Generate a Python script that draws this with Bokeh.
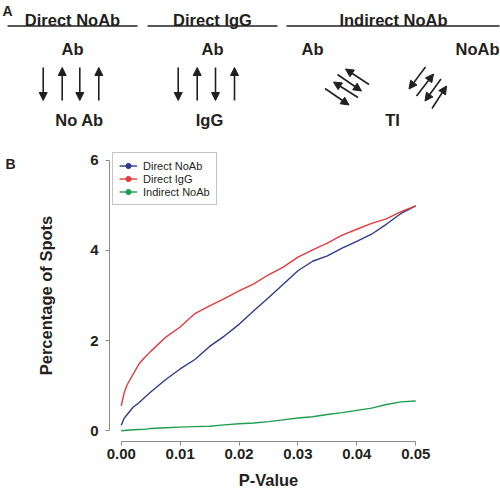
from bokeh.plotting import figure
from bokeh.models import (Range1d, Label, Arrow, NormalHead, Legend, LegendItem,
                          FixedTicker, NumeralTickFormatter)
from bokeh.layouts import row
from bokeh.embed import file_html
from bokeh.resources import INLINE

# ---------------- data ----------------
p_value = [0.0, 0.0005, 0.001, 0.002, 0.003, 0.004, 0.005, 0.0075, 0.01, 0.0125,
           0.015, 0.0175, 0.02, 0.0225, 0.025, 0.0275, 0.03, 0.0325, 0.035, 0.0375,
           0.04, 0.0425, 0.045, 0.0475, 0.05]
direct_noab = [0.12, 0.28, 0.36, 0.52, 0.62, 0.74, 0.86, 1.13, 1.37, 1.58,
               1.87, 2.10, 2.36, 2.66, 2.95, 3.25, 3.55, 3.76, 3.88, 4.05,
               4.20, 4.36, 4.58, 4.82, 4.99]
direct_igg = [0.55, 0.85, 1.02, 1.25, 1.48, 1.63, 1.76, 2.07, 2.30, 2.60,
              2.77, 2.93, 3.10, 3.26, 3.46, 3.63, 3.85, 4.01, 4.16, 4.34,
              4.47, 4.60, 4.70, 4.86, 4.99]
indirect_noab = [0.0, 0.005, 0.01, 0.02, 0.025, 0.03, 0.05, 0.065, 0.08, 0.09,
                 0.10, 0.13, 0.155, 0.17, 0.20, 0.24, 0.28, 0.31, 0.36, 0.40,
                 0.45, 0.50, 0.58, 0.64, 0.66]
series_names = ["Direct NoAb", "Direct IgG", "Indirect NoAb"]
y_ticks = [0, 2, 4, 6]
x_ticks = [0.0, 0.01, 0.02, 0.03, 0.04, 0.05]

panel_headers = ["Direct NoAb", "Direct IgG", "Indirect NoAb"]
top_labels = ["Ab", "Ab", "Ab", "NoAb"]
bottom_labels = ["No Ab", "IgG", "TI"]

# ---------------- styles ----------------
FONT = "Liberation Sans"
INK = "#231f20"
AXIS_GREY = "#8a8a8a"
COLORS = ["#2e3a8c", "#e23b3f", "#1f9e4f"]
W = 500
H1 = 135
H2 = 491 - H1
WB = 30                      # narrow strip that holds the "B" tag
BT, BB = 14, 49              # top / bottom borders of panel B

# ---------------- panel A (schematic, coordinates in page pixels) ----------------
pa = figure(width=W, height=H1, x_range=Range1d(0, W), y_range=Range1d(H1, 0),
            output_backend="svg", toolbar_location=None, min_border=0,
            outline_line_color=None, x_axis_location=None, y_axis_location=None)
pa.xgrid.visible = False
pa.ygrid.visible = False


def txt(fig, x, y, s, size="16.5px", align="center"):
    fig.add_layout(Label(x=x, y=y, text=s, text_align=align, text_baseline="alphabetic",
                         text_font=FONT, text_font_style="bold", text_font_size=size,
                         text_color=INK))


txt(pa, 2, 10.5, "A", size="14px", align="left")
for cx, s in zip([72, 212, 393], panel_headers):
    txt(pa, cx, 19.5, s)
for (x0, x1) in [(7, 137), (147, 277), (286, 499)]:
    pa.add_layout(Arrow(x_start=x0, y_start=25.5, x_end=x1, y_end=25.5, start=None, end=None,
                        line_color=INK, line_width=1.3))
for (x, al), s in zip([(72, "center"), (212, "center"), (312, "center"), (499, "right")], top_labels):
    txt(pa, x, 48.5, s, align=al)
for cx, s in zip([79, 209, 392], bottom_labels):
    txt(pa, cx, 119.5, s)


def arrow(x0, y0, x1, y1):
    pa.add_layout(Arrow(x_start=x0, y_start=y0, x_end=x1, y_end=y1,
                        end=NormalHead(size=8, fill_color=INK, line_color=INK, line_width=1),
                        line_color=INK, line_width=1.6))


# vertical arrows (down, up, down, up)
for xs in ([42.7, 61.7, 79.3, 98.3], [177.7, 196.7, 215, 234]):
    for i, x in enumerate(xs):
        if i % 2 == 0:
            arrow(x, 67, x, 100)
        else:
            arrow(x, 100, x, 67)
# diagonal arrows, left group
arrow(368.5, 84, 345, 68.5)
arrow(337, 74, 361, 90.5)
arrow(357.5, 97, 333, 81.5)
arrow(324.5, 88, 348.5, 104.5)
# diagonal arrows, right group
arrow(425, 66.5, 408.5, 88.5)
arrow(416, 95.5, 433, 73.5)
arrow(440.5, 78.5, 424.5, 100.5)
arrow(431.5, 108, 446, 85.5)

# ---------------- "B" tag strip ----------------
fb = figure(width=WB, height=H2, x_range=Range1d(0, WB), y_range=Range1d(491 - BB, H1 + BT),
            output_backend="svg", toolbar_location=None,
            min_border_left=0, min_border_right=0, min_border_top=BT, min_border_bottom=BB,
            outline_line_color=None, x_axis_location=None, y_axis_location=None)
fb.xgrid.visible = False
fb.ygrid.visible = False
txt(fb, 5, 163.5, "B", size="14px", align="left")

# ---------------- panel B (curves) ----------------
pb = figure(width=W - WB, height=H2, x_range=Range1d(-0.002, 0.052), y_range=Range1d(-0.24, 6.24),
            output_backend="svg", toolbar_location=None,
            min_border_left=109 - WB, min_border_right=73, min_border_top=BT, min_border_bottom=BB,
            outline_line_color=None)
pb.xgrid.visible = False
pb.ygrid.visible = False

items = []
nan = float("nan")
for name, vals, col in zip(series_names, [direct_noab, direct_igg, indirect_noab], COLORS):
    lr = pb.line(p_value, vals, line_color=col, line_width=1.4)
    dr = pb.scatter(x=[nan], y=[nan], marker="circle", fill_color=col, line_color=col)
    items.append(LegendItem(label=name, renderers=[lr, dr]))

legend = Legend(items=items, location="top_left", margin=3, padding=6, spacing=0,
                glyph_width=18, glyph_height=13, label_height=13, label_standoff=6,
                label_text_font=FONT, label_text_font_size="11px", label_text_color=INK,
                border_line_color="#8c8c8c", border_line_width=1,
                background_fill_color="white", background_fill_alpha=1)
pb.add_layout(legend)

for ax in (pb.xaxis[0], pb.yaxis[0]):
    ax.axis_line_color = AXIS_GREY
    ax.major_tick_line_color = AXIS_GREY
    ax.minor_tick_line_color = None
    ax.major_tick_out = 4
    ax.major_tick_in = 0
    ax.major_label_text_font = FONT
    ax.major_label_text_font_style = "bold"
    ax.major_label_text_font_size = "15px"
    ax.major_label_text_color = INK
    ax.axis_label_text_font = FONT
    ax.axis_label_text_font_style = "bold"
    ax.axis_label_text_font_size = "16.5px"
    ax.axis_label_text_color = INK

yax = pb.yaxis[0]
yax.bounds = (0, 6)
yax.ticker = FixedTicker(ticks=y_ticks)
yax.major_label_standoff = 7
yax.axis_label = "Percentage of Spots"
yax.axis_label_standoff = 32

xax = pb.xaxis[0]
xax.bounds = (0, 0.05)
xax.ticker = FixedTicker(ticks=x_ticks)
xax.formatter = NumeralTickFormatter(format="0.00")
xax.major_label_standoff = 3
xax.axis_label = "P-Value"
xax.axis_label_standoff = 9

p = [pa, row(fb, pb, spacing=0)]
open("out.html", "w").write(file_html(p, INLINE))
